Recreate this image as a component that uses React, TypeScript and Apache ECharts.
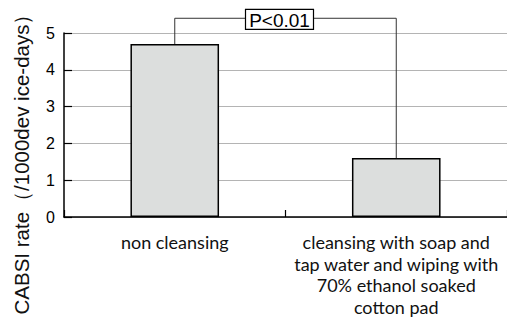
import React, { useEffect, useRef } from "react";
import * as echarts from "echarts";

const categories = [
  "non cleansing",
  "cleansing with soap and\ntap water and wiping with\n70% ethanol soaked\ncotton pad",
];
const values = [4.7, 1.6];
const yTicks = [0, 1, 2, 3, 4, 5];
const yLabel = "CABSI rate（/1000dev ice-days）";
const pText = "P<0.01";
const bracketLevel = [5.4];

export default function App() {
  const ref = useRef<HTMLDivElement>(null);
  useEffect(() => {
    if (!ref.current) return;
    const chart = echarts.init(ref.current, undefined, { renderer: "svg" });
    chart.setOption({
      animation: false,
      backgroundColor: "#fff",
      grid: { left: 64, right: 0, top: 33, bottom: 112 },
      xAxis: {
        type: "category",
        data: categories,
        boundaryGap: true,
        axisLine: { show: true, lineStyle: { color: "#000", width: 1.5 } },
        axisTick: { show: true, inside: true, length: 7, lineStyle: { color: "#000", width: 1.2 } },
        axisLabel: {
          color: "#111",
          fontFamily: "Lato",
          fontWeight: 400,
          fontSize: 18,
          lineHeight: 21.7,
          margin: 14,
          interval: 0,
        },
      },
      yAxis: {
        type: "value",
        min: yTicks[0],
        max: yTicks[yTicks.length - 1],
        interval: 1,
        axisLine: { show: true, lineStyle: { color: "#000", width: 1.5 } },
        axisTick: { show: true, inside: true, length: 8, lineStyle: { color: "#000", width: 1.2 } },
        axisLabel: {
          color: "#000",
          fontFamily: "Liberation Sans",
          fontSize: 16,
          margin: 9,
        },
        splitLine: { show: true, lineStyle: { color: "#b4b4b4", width: 1 } },
      },
      graphic: [
        {
          type: "text",
          x: 21,
          y: 159,
          rotation: Math.PI / 2,
          style: {
            text: yLabel,
            fill: "#111",
            fontFamily: "Liberation Sans",
            fontSize: 20.5,
            align: "center",
            verticalAlign: "middle",
          },
        },
      ],
      series: [
        {
          type: "bar",
          data: values,
          barWidth: "40%",
          itemStyle: { color: "#dcdedd", borderColor: "#000", borderWidth: 1.5 },
        },
        {
          type: "custom",
          data: [0],
          clip: false,
          z: 10,
          renderItem: (_params: any, api: any) => {
            const p0 = api.coord([0, values[0]]);
            const p1 = api.coord([1, values[1]]);
            const yb = api.coord([0, bracketLevel[0]])[1];
            const midX = (p0[0] + p1[0]) / 2 - 6;
            const bw = 68;
            const bh = 20;
            return {
              type: "group",
              children: [
                {
                  type: "polyline",
                  shape: {
                    points: [
                      [p0[0], p0[1]],
                      [p0[0], yb],
                      [p1[0], yb],
                      [p1[0], p1[1]],
                    ],
                  },
                  style: { stroke: "#333", lineWidth: 1, fill: "none" },
                },
                {
                  type: "rect",
                  shape: { x: midX - bw / 2, y: yb - bh / 2 + 1, width: bw, height: bh },
                  style: { fill: "#fff", stroke: "#000", lineWidth: 1.2 },
                },
                {
                  type: "text",
                  x: midX,
                  y: yb + 2,
                  style: {
                    text: pText,
                    fill: "#000",
                    fontFamily: "Liberation Sans",
                    fontSize: 19,
                    align: "center",
                    verticalAlign: "middle",
                  },
                },
              ],
            };
          },
        },
      ],
    });
    return () => chart.dispose();
  }, []);
  return (
    <div
      ref={ref}
      style={{ position: "fixed", left: 0, top: 0, width: 507, height: 329 }}
    />
  );
}
